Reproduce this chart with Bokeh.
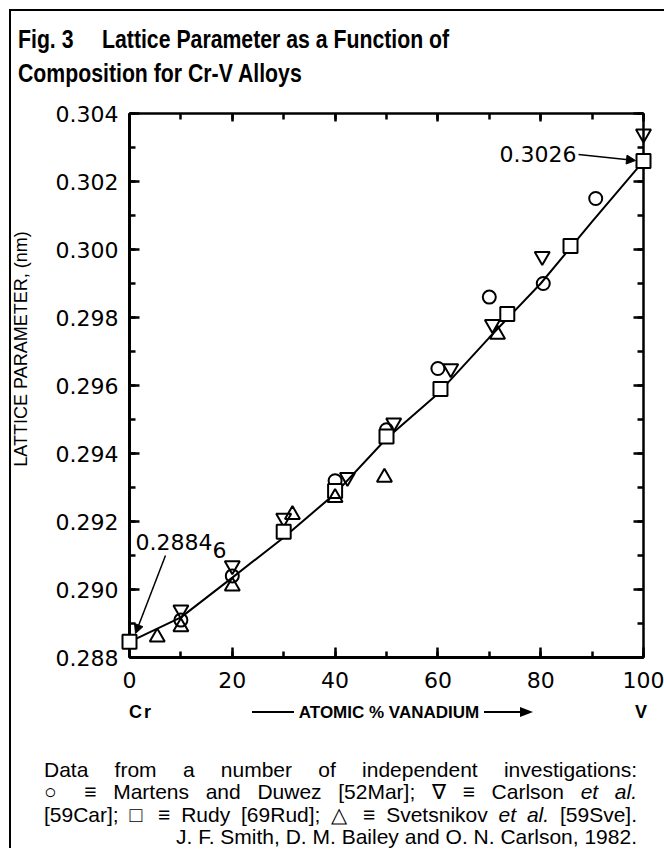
from bokeh.plotting import figure
from bokeh.models import (LinearAxis, SingleIntervalTicker, NumeralTickFormatter,
                          CustomJSTickFormatter, Label, Arrow, NormalHead, Div, Range1d)
from bokeh.layouts import column, row
from bokeh.embed import file_html
from bokeh.resources import INLINE

# ---------------- data ----------------
martens_x = [10, 20, 40, 50, 60, 70, 80.5, 90.7]
martens_y = [0.2891, 0.2904, 0.2932, 0.2947, 0.2965, 0.2986, 0.2990, 0.3015]

carlson_x = [10, 20, 30, 42.4, 51.4, 62.5, 70.6, 80.3, 100]
carlson_y = [0.2894, 0.2907, 0.2921, 0.2933, 0.2949, 0.2965, 0.2978, 0.2998, 0.3034]

rudy_x = [0, 30, 40, 50, 60.5, 73.5, 85.8, 100]
rudy_y = [0.28846, 0.2917, 0.2929, 0.2945, 0.2959, 0.2981, 0.3001, 0.3026]

svet_x = [5.4, 10, 20, 31.7, 40, 49.6, 71.6]
svet_y = [0.2886, 0.2889, 0.2901, 0.2922, 0.2927, 0.2933, 0.2975]

curve_x = [0, 10, 20, 30, 40, 50, 60, 70, 80, 90, 100]
curve_y = [0.28846, 0.28918, 0.29035, 0.29153, 0.29282, 0.29444, 0.29576,
           0.29741, 0.29900, 0.30082, 0.30260]

x_ticks_interval = 20
y_ticks_interval = 0.002
title_1a = "Fig. 3"
title_1b = "Lattice Parameter as a Function of"
title_2 = "Composition for Cr-V Alloys"
y_label = "LATTICE PARAMETER, (nm)"
x_label = "ATOMIC % VANADIUM"
start_label = "Cr"
end_label = "V"
note_low = "0.2884"
note_low_sub = "6"
note_high = "0.3026"
caption_lines = [
    "Data from a number of independent investigations:",
    "&#9675; &#8801; Martens and Duwez [52Mar]; &#8711; &#8801; Carlson <i>et al.</i>",
    "[59Car]; &#9633; &#8801; Rudy [69Rud]; &#9651; &#8801; Svetsnikov <i>et al.</i> [59Sve].",
    "J. F. Smith, D. M. Bailey and O. N. Carlson, 1982.",
]

# ---------------- page geometry ----------------
PAGE_W = 664
TOP_H = 100          # title strip
MID_H = 598          # plot strip
BOT_H = 150          # x-label + caption strip
YLAB_W = 40          # strip holding the y-axis title
FX0, FX1 = 129.0, 643.0     # frame left/right on the page
FY0, FY1 = 113.0, 657.0     # frame top/bottom on the page
XMIN, XMAX = 0.0, 100.0
YMIN, YMAX = 0.288, 0.304


def X(px):
    return XMIN + (px - FX0) * (XMAX - XMIN) / (FX1 - FX0)


def Y(py):
    return YMIN + (FY1 - py) * (YMAX - YMIN) / (FY1 - FY0)


PW = PAGE_W - YLAB_W
p = figure(width=PW, height=MID_H, x_range=Range1d(XMIN, XMAX), y_range=Range1d(YMIN, YMAX),
           output_backend="svg", toolbar_location=None,
           x_axis_location=None, y_axis_location=None, margin=0,
           min_border_left=int(FX0 - YLAB_W), min_border_right=int(PAGE_W - FX1),
           min_border_top=int(FY0 - TOP_H), min_border_bottom=int(TOP_H + MID_H - FY1))
p.xgrid.visible = False
p.ygrid.visible = False
p.outline_line_color = None
p.background_fill_color = "white"
p.border_fill_color = "white"

TICK_FONT = "DejaVu Sans"


def style_axis(ax, lw):
    ax.axis_line_width = lw
    ax.axis_line_color = "black"
    ax.major_tick_in = 10
    ax.major_tick_out = 0
    ax.minor_tick_in = 6
    ax.minor_tick_out = 0
    ax.major_tick_line_width = 2.5
    ax.minor_tick_line_width = 2.5
    ax.major_tick_line_color = "black"
    ax.minor_tick_line_color = "black"
    ax.major_label_text_font = TICK_FONT
    ax.major_label_text_font_size = "22px"
    ax.major_label_text_color = "black"


blank = CustomJSTickFormatter(code="return ''")

xb = LinearAxis(ticker=SingleIntervalTicker(interval=x_ticks_interval, num_minor_ticks=2),
                formatter=NumeralTickFormatter(format="0"))
style_axis(xb, 3)
xb.major_label_standoff = 14
p.add_layout(xb, "below")

xt = LinearAxis(ticker=SingleIntervalTicker(interval=x_ticks_interval, num_minor_ticks=2),
                formatter=blank)
style_axis(xt, 2.5)
xt.major_tick_in = 8
xt.major_label_standoff = 0
xt.major_label_text_font_size = "1px"
p.add_layout(xt, "above")

yl = LinearAxis(ticker=SingleIntervalTicker(interval=y_ticks_interval, num_minor_ticks=2),
                formatter=NumeralTickFormatter(format="0.000"))
style_axis(yl, 3)
yl.major_label_standoff = 11
p.add_layout(yl, "left")

yr = LinearAxis(ticker=SingleIntervalTicker(interval=y_ticks_interval, num_minor_ticks=2),
                formatter=blank)
style_axis(yr, 2.5)
yr.major_label_standoff = 0
yr.major_label_text_font_size = "1px"
p.add_layout(yr, "right")

# ---------------- fitted curve and data points ----------------
p.line(curve_x, curve_y, line_color="black", line_width=2)

MLW = 2
r1 = p.scatter(martens_x, martens_y, marker="circle", size=13, line_color="black",
               line_width=MLW, fill_color=None)
r2 = p.scatter(carlson_x, carlson_y, marker="inverted_triangle", size=15, line_color="black",
               line_width=MLW, fill_color=None)
r3 = p.scatter(rudy_x, rudy_y, marker="square", size=14, line_color="black",
               line_width=MLW, fill_color="white")
r4 = p.scatter(svet_x, svet_y, marker="triangle", size=15, line_color="black",
               line_width=MLW, fill_color=None)
for r in (r1, r2, r3, r4):
    r.level = "overlay"

# annotations of the end members (inside the frame)
p.add_layout(Label(x=X(135), y=Y(541), text=note_low, text_align="left", text_baseline="middle",
                   text_font=TICK_FONT, text_font_size="22px", text_color="black"))
p.add_layout(Label(x=X(212), y=Y(549), text=note_low_sub, text_align="left",
                   text_baseline="middle", text_font=TICK_FONT, text_font_size="22px",
                   text_color="black"))
p.add_layout(Arrow(x_start=X(165), y_start=Y(555), x_end=X(135), y_end=Y(633), start=None,
                   end=NormalHead(size=9, fill_color="black", line_color="black"),
                   line_width=1.5, line_color="black"))
p.add_layout(Label(x=X(576), y=Y(153), text=note_high, text_align="right", text_baseline="middle",
                   text_font=TICK_FONT, text_font_size="22px", text_color="black"))
p.add_layout(Arrow(x_start=X(578), y_start=Y(154), x_end=X(635), y_end=Y(160), start=None,
                   end=NormalHead(size=9, fill_color="black", line_color="black"),
                   line_width=1.5, line_color="black"))

# ---------------- HTML strips around the plot ----------------
RULE = "background:black;position:absolute;"


def box(w, h, inner):
    return ('<div style="position:relative;width:%dpx;height:%dpx;overflow:visible;'
            'color:black;">%s</div>' % (w, h, inner))


def vrule(x, y0, y1):
    return '<div style="%sleft:%dpx;top:%dpx;width:2px;height:%dpx;"></div>' % (RULE, x, y0, y1 - y0)


def hrule(y, x0, x1, h=2):
    return '<div style="%sleft:%dpx;top:%dpx;width:%dpx;height:%dpx;"></div>' % (RULE, x0, y, x1 - x0, h)


def centered(cx, cy, text, css):
    return ('<div style="position:absolute;left:%dpx;top:%dpx;transform:translate(-50%%,-50%%);'
            'white-space:nowrap;line-height:1;%s">%s</div>' % (cx, cy, css, text))


TITLE_CSS = ("position:absolute;white-space:nowrap;line-height:1;font-family:'Liberation Sans';"
             "font-weight:bold;font-size:25px;transform:scaleX(0.85);transform-origin:0 0;")
title_inner = (hrule(9, 9, PAGE_W) + vrule(9, 9, TOP_H) +
               '<div style="%sleft:18px;top:27px;">%s</div>' % (TITLE_CSS, title_1a) +
               '<div style="%sleft:102px;top:27px;">%s</div>' % (TITLE_CSS, title_1b) +
               '<div style="%sleft:18px;top:61px;">%s</div>' % (TITLE_CSS, title_2))
title_div = Div(text=box(PAGE_W, TOP_H, title_inner), width=PAGE_W, height=TOP_H, margin=0)

ylab_inner = (vrule(9, 0, MID_H) +
              '<div style="position:absolute;left:21px;top:%dpx;transform:translate(-50%%,-50%%) '
              'rotate(-90deg);white-space:nowrap;line-height:1;font-family:\'Liberation Sans\';'
              'font-size:18px;">%s</div>' % (349 - TOP_H, y_label))
ylab_div = Div(text=box(YLAB_W, MID_H, ylab_inner), width=YLAB_W, height=MID_H, margin=0)

B0 = TOP_H + MID_H
XL_CSS = "font-family:'Liberation Sans';font-weight:bold;font-size:17px;"
ly = 712 - B0
bot_inner = (vrule(9, 0, BOT_H) +
             centered(141, ly, start_label, XL_CSS + "font-size:18px;letter-spacing:2px;") +
             hrule(ly - 1, 252, 294) +
             centered(389, ly, x_label, XL_CSS) +
             hrule(ly - 1, 484, 522) +
             '<div style="position:absolute;left:520px;top:%dpx;width:0;height:0;'
             'border-top:5px solid transparent;border-bottom:5px solid transparent;'
             'border-left:13px solid black;"></div>' % (ly - 5) +
             centered(641, ly, end_label, XL_CSS + "font-size:18px;"))
cap_rows = []
for i, line in enumerate(caption_lines):
    align = "text-align:right;" if i == len(caption_lines) - 1 else \
        "text-align:justify;text-align-last:justify;"
    cap_rows.append('<div style="width:593px;%s">%s</div>' % (align, line))
bot_inner += ('<div style="position:absolute;left:44px;top:%dpx;font-family:\'Liberation Sans\';'
              'font-size:21px;line-height:22.4px;">%s</div>' % (770 - B0 - 11, "".join(cap_rows)))
bot_div = Div(text=box(PAGE_W, BOT_H, bot_inner), width=PAGE_W, height=BOT_H, margin=0)

layout = column(title_div, row(ylab_div, p, spacing=0, margin=0), bot_div, spacing=0, margin=0)

with open("out.html", "w", encoding="utf-8") as f:
    f.write(file_html(layout, INLINE))
